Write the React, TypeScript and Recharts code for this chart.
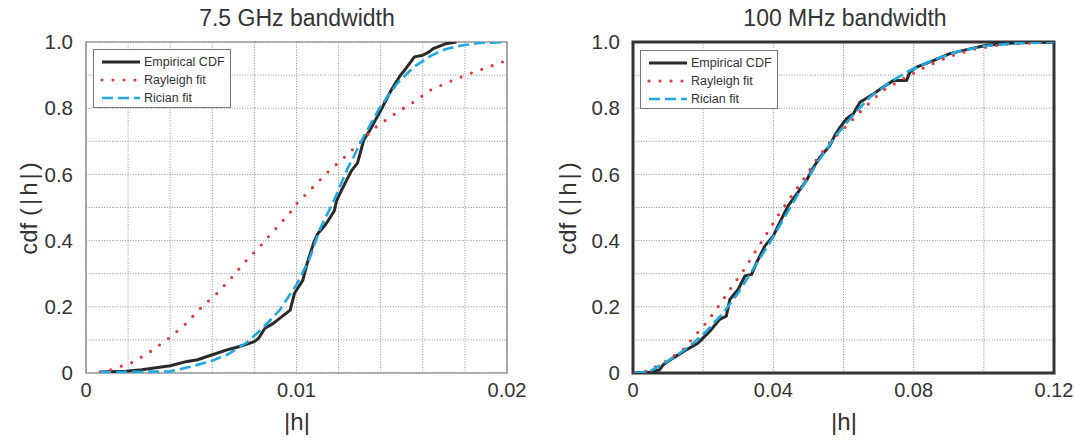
import React from 'react';
import { LineChart, Line, XAxis, YAxis, CartesianGrid, Legend, ReferenceArea } from 'recharts';

type Pt = [number, number];

// ---- 7.5 GHz bandwidth ----
const wideEmpirical: Pt[] = [
  [0.00067, 0.003], [0.0019, 0.005], [0.00265, 0.01], [0.004, 0.022], [0.0048, 0.035], [0.0053, 0.04],
  [0.006, 0.055], [0.0067, 0.07], [0.0073, 0.08], [0.008, 0.095], [0.0082, 0.105], [0.0085, 0.135],
  [0.0089, 0.15], [0.0092, 0.165], [0.0097, 0.19], [0.0099, 0.24], [0.0103, 0.28], [0.0105, 0.33],
  [0.0108, 0.39], [0.011, 0.42], [0.0114, 0.45], [0.0118, 0.49], [0.0119, 0.52], [0.0122, 0.56],
  [0.0126, 0.61], [0.0129, 0.635], [0.0132, 0.705], [0.0135, 0.735], [0.0138, 0.77], [0.0141, 0.805],
  [0.0145, 0.855], [0.0149, 0.896], [0.0152, 0.92], [0.0156, 0.955], [0.016, 0.96], [0.0163, 0.97],
  [0.0165, 0.98], [0.0171, 0.995], [0.0176, 1.0],
];
const wideRayleigh: Pt[] = [
  [0.00067, 0.003], [0.0012, 0.01], [0.0022, 0.032], [0.003, 0.062], [0.0039, 0.103], [0.0047, 0.146],
  [0.0054, 0.193], [0.0062, 0.239], [0.0069, 0.287], [0.0076, 0.339], [0.0083, 0.385], [0.009, 0.435],
  [0.0097, 0.485], [0.01, 0.511], [0.0107, 0.556], [0.0114, 0.602], [0.0122, 0.647], [0.013, 0.695],
  [0.0137, 0.74], [0.0146, 0.78], [0.0156, 0.82], [0.0164, 0.856], [0.0173, 0.881], [0.0183, 0.906],
  [0.0198, 0.94],
];
const wideRician: Pt[] = [
  [0.00067, 0.002], [0.004, 0.005], [0.0049, 0.018], [0.0059, 0.035], [0.0067, 0.055], [0.0076, 0.09],
  [0.0084, 0.136], [0.0092, 0.19], [0.01, 0.267], [0.0106, 0.342], [0.0111, 0.433], [0.0118, 0.524],
  [0.0124, 0.614], [0.0132, 0.715], [0.014, 0.806], [0.0148, 0.876], [0.0156, 0.926], [0.0164, 0.959],
  [0.0171, 0.979], [0.0179, 0.99], [0.0187, 0.997], [0.02, 1.0],
];

// ---- 100 MHz bandwidth ----
const narrowEmpirical: Pt[] = [
  [0.0005, 0], [0.0048, 0.002], [0.0076, 0.01], [0.0086, 0.025], [0.0114, 0.045], [0.0152, 0.07],
  [0.0185, 0.09], [0.02, 0.106], [0.0219, 0.126], [0.0247, 0.162], [0.0266, 0.172], [0.0276, 0.222],
  [0.03, 0.253], [0.0319, 0.293], [0.0338, 0.298], [0.0352, 0.333], [0.0376, 0.384], [0.04, 0.414],
  [0.0423, 0.465], [0.0442, 0.505], [0.0466, 0.54], [0.0494, 0.581], [0.0514, 0.621], [0.0533, 0.652],
  [0.0561, 0.687], [0.0575, 0.717], [0.059, 0.742], [0.0609, 0.768], [0.0628, 0.783], [0.0647, 0.818],
  [0.0685, 0.843], [0.0713, 0.864], [0.0742, 0.884], [0.078, 0.884], [0.0789, 0.909], [0.0808, 0.924],
  [0.0856, 0.944], [0.0903, 0.965], [0.0951, 0.977], [0.1008, 0.99], [0.1056, 0.995], [0.1103, 0.998],
  [0.12, 1.0],
];
const narrowRayleigh: Pt[] = [
  [0.0005, 0], [0.0038, 0.005], [0.0086, 0.03], [0.0143, 0.071], [0.0185, 0.123], [0.0209, 0.152],
  [0.0244, 0.202], [0.028, 0.258], [0.0314, 0.308], [0.0347, 0.364], [0.038, 0.419], [0.0416, 0.48],
  [0.0452, 0.535], [0.049, 0.591], [0.0528, 0.652], [0.0566, 0.702], [0.0609, 0.747], [0.0656, 0.798],
  [0.0713, 0.854], [0.077, 0.889], [0.0827, 0.921], [0.0899, 0.955], [0.097, 0.978], [0.1056, 0.993],
  [0.12, 1.0],
];
const narrowRician: Pt[] = [
  [0.0005, 0], [0.0048, 0.005], [0.0105, 0.04], [0.0162, 0.081], [0.0209, 0.126], [0.0257, 0.182],
  [0.03, 0.242], [0.0342, 0.313], [0.039, 0.394], [0.0437, 0.48], [0.0485, 0.566], [0.0532, 0.646],
  [0.058, 0.719], [0.0628, 0.78], [0.0675, 0.833], [0.0732, 0.879], [0.0789, 0.914], [0.0856, 0.946],
  [0.0922, 0.97], [0.0998, 0.987], [0.1084, 0.996], [0.12, 1.0],
];

// ---- axes ----
const yTicks = [0, 0.1, 0.2, 0.3, 0.4, 0.5, 0.6, 0.7, 0.8, 0.9, 1.0];
const yTickLabels = ['0', '', '0.2', '', '0.4', '', '0.6', '', '0.8', '', '1.0'];
const wideXTicks = [0, 0.002, 0.004, 0.006, 0.008, 0.01, 0.012, 0.014, 0.016, 0.018, 0.02];
const wideXTickLabels = ['0', '', '', '', '', '0.01', '', '', '', '', '0.02'];
const narrowXTicks = [0, 0.02, 0.04, 0.06, 0.08, 0.1, 0.12];
const narrowXTickLabels = ['0', '', '0.04', '', '0.08', '', '0.12'];

const seriesNames = ['Empirical CDF', 'Rayleigh fit', 'Rician fit'];
const titles = ['7.5 GHz bandwidth', '100 MHz bandwidth'];
const xAxisTitle = '|h|';
const yAxisTitleParts = ['cdf ', '(|h|)'];

const FONT = '"Liberation Sans", Arial, Helvetica, sans-serif';
const TEXT = '#333';
const styles = [
  { stroke: '#2a2a2a', width: 3, dash: undefined as string | undefined, cap: 'butt' },
  { stroke: '#e8363d', width: 3.2, dash: '0 11', cap: 'round' },
  { stroke: '#1ea9e1', width: 2.6, dash: '11 5', cap: 'butt' },
];

const toRows = (pts: Pt[]) => pts.map(([x, y]) => ({ x, y }));

const LegendBox = () => (
  <div
    style={{
      width: 136,
      height: 57,
      border: '1px solid #777',
      background: '#fff',
      position: 'relative',
      fontFamily: FONT,
      fontSize: 12.5,
      color: TEXT,
    }}
  >
    {seriesNames.map((name, i) => (
      <div key={name} style={{ position: 'absolute', left: 0, top: 3 + i * 18, height: 18, display: 'flex', alignItems: 'center' }}>
        <svg width={50} height={18} style={{ display: 'block' }}>
          <line
            x1={8}
            x2={46}
            y1={9}
            y2={9}
            stroke={styles[i].stroke}
            strokeWidth={styles[i].width}
            strokeDasharray={styles[i].dash}
            strokeLinecap={styles[i].cap as any}
          />
        </svg>
        <span style={{ whiteSpace: 'nowrap' }}>{name}</span>
      </div>
    ))}
  </div>
);

type PanelProps = {
  left: number;
  width: number;
  marginLeft: number;
  marginRight: number;
  xMax: number;
  xTicks: number[];
  xLabels: string[];
  series: Pt[][];
  borderColor: string;
  borderWidth: number;
  legendLeft: number;
  legendTop: number;
};

const Panel = (p: PanelProps) => (
  <div style={{ position: 'absolute', left: p.left, top: 0 }}>
    <LineChart
      width={p.width}
      height={440}
      margin={{ top: 42, right: p.marginRight, bottom: 37, left: p.marginLeft }}
    >
      <CartesianGrid stroke="#8f8f8f" strokeDasharray="1 1.6" strokeWidth={1} />
      <XAxis
        type="number"
        dataKey="x"
        domain={[0, p.xMax]}
        ticks={p.xTicks}
        interval={0}
        allowDataOverflow
        axisLine={false}
        tickLine={false}
        tickSize={0}
        tickMargin={10}
        height={30}
        tickFormatter={(_v: number, i: number) => p.xLabels[i]}
        tick={{ fontSize: 20, fill: TEXT, fontFamily: FONT }}
      />
      <YAxis
        type="number"
        dataKey="y"
        domain={[0, 1]}
        ticks={yTicks}
        interval={0}
        allowDataOverflow
        axisLine={false}
        tickLine={false}
        tickSize={0}
        tickMargin={13}
        width={60}
        tickFormatter={(_v: number, i: number) => yTickLabels[i]}
        tick={{ fontSize: 20.5, fill: TEXT, fontFamily: FONT }}
      />
      {p.series.map((s, i) => (
        <Line
          key={seriesNames[i]}
          data={toRows(s)}
          dataKey="y"
          name={seriesNames[i]}
          type="linear"
          stroke={styles[i].stroke}
          strokeWidth={styles[i].width}
          strokeDasharray={styles[i].dash}
          strokeLinecap={styles[i].cap as any}
          strokeLinejoin="round"
          dot={false}
          activeDot={false}
          isAnimationActive={false}
        />
      ))}
      <ReferenceArea
        x1={0}
        x2={p.xMax}
        y1={0}
        y2={1}
        fill="none"
        fillOpacity={0}
        stroke={p.borderColor}
        strokeWidth={p.borderWidth}
        ifOverflow="visible"
      />
      <Legend
        layout="vertical"
        align="center"
        verticalAlign="middle"
        content={() => <LegendBox />}
        wrapperStyle={{ left: p.legendLeft, top: p.legendTop, width: 138, height: 59 }}
      />
    </LineChart>
  </div>
);

const textBase: React.CSSProperties = {
  position: 'absolute',
  fontFamily: FONT,
  color: TEXT,
  whiteSpace: 'nowrap',
  lineHeight: 1,
};

const YTitle = ({ left }: { left: number }) => (
  <div style={{ ...textBase, left, top: 207, fontSize: 24, transform: 'translate(-50%, -50%) rotate(-90deg)' }}>
    <span>{yAxisTitleParts[0]}</span>
    <span style={{ letterSpacing: 3 }}>{yAxisTitleParts[1]}</span>
  </div>
);

export default function App() {
  return (
    <div style={{ position: 'absolute', left: 0, top: 0, width: 1074, height: 440, background: '#fff', overflow: 'hidden' }}>
      <Panel
        left={0}
        width={540}
        marginLeft={26}
        marginRight={33}
        xMax={0.02}
        xTicks={wideXTicks}
        xLabels={wideXTickLabels}
        series={[wideEmpirical, wideRayleigh, wideRician]}
        borderColor="#777"
        borderWidth={1.2}
        legendLeft={93}
        legendTop={49}
      />
      <Panel
        left={540}
        width={534}
        marginLeft={33}
        marginRight={20}
        xMax={0.12}
        xTicks={narrowXTicks}
        xLabels={narrowXTickLabels}
        series={[narrowEmpirical, narrowRayleigh, narrowRician]}
        borderColor="#333"
        borderWidth={3}
        legendLeft={100}
        legendTop={50}
      />
      {/* titles */}
      <div style={{ ...textBase, left: 297, top: 7, fontSize: 23, transform: 'translateX(-50%)' }}>{titles[0]}</div>
      <div style={{ ...textBase, left: 845, top: 7, fontSize: 23, transform: 'translateX(-50%)' }}>{titles[1]}</div>
      {/* x axis titles */}
      <div style={{ ...textBase, left: 297, top: 410, fontSize: 24, transform: 'translateX(-50%)' }}>{xAxisTitle}</div>
      <div style={{ ...textBase, left: 844, top: 410, fontSize: 24, transform: 'translateX(-50%)' }}>{xAxisTitle}</div>
      {/* y axis titles */}
      <YTitle left={29} />
      <YTitle left={568} />
    </div>
  );
}
